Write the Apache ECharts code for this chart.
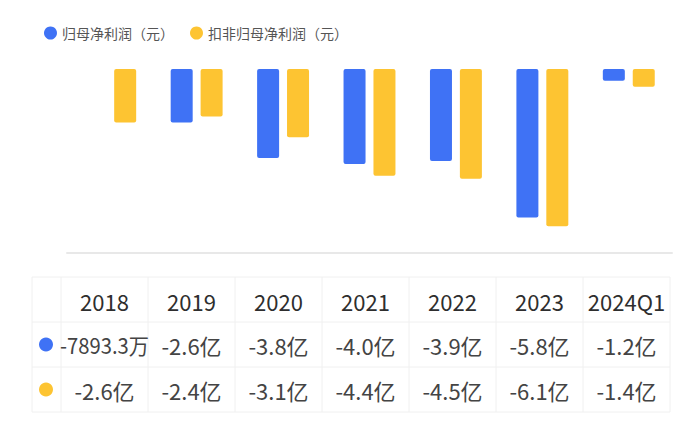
<!DOCTYPE html>
<html>
<head>
<meta charset="utf-8">
<script src="https://cdn.jsdelivr.net/npm/echarts@6/dist/echarts.min.js"></script>
<style>
html,body{margin:0;padding:0;background:#fff;}
#main{width:700px;height:426px;}
</style>
</head>
<body>
<div id="main"></div>
<script>
// Data (unit: 亿元)
var categories = ['2018', '2019', '2020', '2021', '2022', '2023', '2024Q1'];
var seriesNames = ['归母净利润（元）', '扣非归母净利润（元）'];
var netProfit = [-0.789333, -2.6, -3.8, -4.0, -3.9, -5.8, -1.2];
var netProfitExcl = [-2.6, -2.4, -3.1, -4.4, -4.5, -6.1, -1.4];
var colors = ['#3f72f5', '#fdc432'];

function fmt(v) {
  if (Math.abs(v) < 1) return (v * 10000).toFixed(1) + '万';
  return v.toFixed(1) + '亿';
}

var chart = echarts.init(document.getElementById('main'), null, {renderer: 'svg'});

var fontFam = '"Noto Sans CJK SC", "Noto Sans", sans-serif';
var measureCtx = document.createElement('canvas').getContext('2d');
function textW(t, font) { measureCtx.font = font; return measureCtx.measureText(t).width; }

// Table layout
var tLeft = 32, firstW = 29, colW = 87, rowTops = [277, 322, 367, 412];
var tRight = tLeft + firstW + colW * categories.length;
var lineColor = '#f0f0f0';
var graphics = [];
rowTops.forEach(function (y) {
  graphics.push({type: 'line', shape: {x1: tLeft, y1: y, x2: tRight, y2: y}, style: {stroke: lineColor, lineWidth: 1}, silent: true});
});
for (var c = 0; c <= categories.length + 1; c++) {
  var x = c === 0 ? tLeft : tLeft + firstW + colW * (c - 1);
  graphics.push({type: 'line', shape: {x1: x, y1: rowTops[0], x2: x, y2: rowTops[3]}, style: {stroke: lineColor, lineWidth: 1}, silent: true});
}
function cellText(t, cx, cy, font, fill) {
  var w = textW(t, font);
  var maxW = colW + 2;
  var sx = w > maxW ? maxW / w : 1;
  graphics.push({type: 'text', x: cx, y: cy, scaleX: sx,
    style: {text: t, fill: fill, font: font, align: 'center', verticalAlign: 'middle'}});
}
var rows = [netProfit, netProfitExcl];
categories.forEach(function (cat, i) {
  var cx = tLeft + firstW + colW * i + colW / 2;
  cellText(cat, cx, (rowTops[0] + rowTops[1]) / 2 + 1, '22px ' + fontFam, '#2e2e2e');
  rows.forEach(function (arr, r) {
    cellText(fmt(arr[i]), cx, (rowTops[r + 1] + rowTops[r + 2]) / 2, '22px ' + fontFam, '#444');
  });
});
rows.forEach(function (arr, r) {
  graphics.push({type: 'circle', shape: {cx: 46, cy: (rowTops[r + 1] + rowTops[r + 2]) / 2, r: 7}, style: {fill: colors[r]}});
});

chart.setOption({
  animation: false,
  backgroundColor: '#fff',
  color: colors,
  legend: {
    left: 39, top: 21,
    icon: 'circle', itemWidth: 13, itemHeight: 13, itemGap: 16,
    textStyle: {fontSize: 14, color: '#555', fontFamily: fontFam},
    data: seriesNames
  },
  grid: {left: 67, right: 28, top: 69, bottom: 173},
  xAxis: {
    type: 'category', data: categories,
    axisLine: {show: true, lineStyle: {color: '#e8e8e8', width: 2}},
    axisTick: {show: false}, axisLabel: {show: false}
  },
  yAxis: {
    type: 'value', min: -7, max: -0.8, show: false, splitLine: {show: false}
  },
  series: [
    {name: seriesNames[0], type: 'bar', data: netProfit, barWidth: 22, barGap: '36%', clip: true, itemStyle: {borderRadius: 2}},
    {name: seriesNames[1], type: 'bar', data: netProfitExcl, barWidth: 22, barGap: '36%', clip: true, itemStyle: {borderRadius: 2}}
  ],
  graphic: graphics
});
</script>
</body>
</html>
